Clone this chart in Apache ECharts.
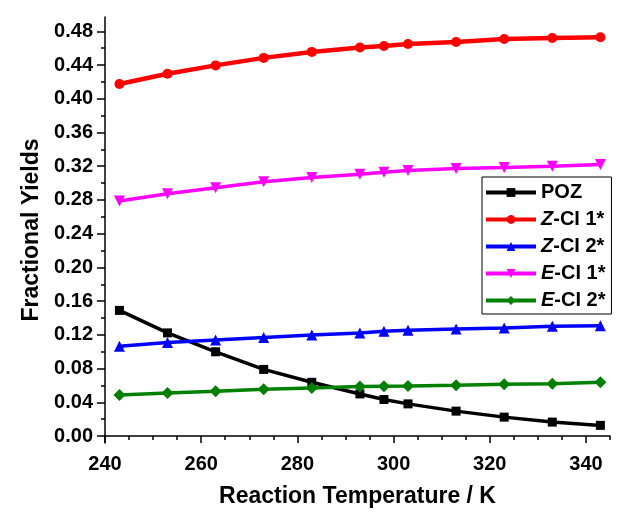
<!DOCTYPE html>
<html>
<head>
<meta charset="utf-8">
<script src="https://cdn.jsdelivr.net/npm/echarts@6/dist/echarts.min.js"></script>
<style>html,body{margin:0;padding:0;background:#fff}#c{width:633px;height:513px}</style>
</head>
<body>
<div id="c"></div>
<script>
const temps = [243, 253, 263, 273, 283, 293, 298, 303, 313, 323, 333, 343];
const poz   = [0.149, 0.1223, 0.0999, 0.079, 0.0637, 0.0499, 0.0433, 0.0381, 0.0295, 0.0224, 0.0165, 0.0126];
const zci1  = [0.4175, 0.4297, 0.4396, 0.4485, 0.4556, 0.4608, 0.4627, 0.465, 0.4674, 0.4709, 0.4721, 0.4729];
const zci2  = [0.1065, 0.1109, 0.114, 0.1168, 0.1199, 0.1223, 0.1242, 0.1254, 0.127, 0.1282, 0.1301, 0.1309];
const eci1  = [0.2787, 0.2874, 0.2945, 0.3016, 0.3066, 0.3105, 0.3129, 0.3149, 0.3173, 0.3184, 0.32, 0.322];
const eci2  = [0.0487, 0.0511, 0.0531, 0.0554, 0.057, 0.0586, 0.059, 0.0593, 0.0601, 0.0613, 0.0621, 0.0637];
const seriesNames = ['POZ', 'Z-CI1*', 'Z-CI2*', 'E-CI1*', 'E-CI2*'];
const xMajor = [240, 260, 280, 300, 320, 340];
const xMinor = [245, 250, 255, 265, 270, 275, 285, 290, 295, 305, 310, 315, 325, 330, 335, 345];
const yMajor = [0, 0.04, 0.08, 0.12, 0.16, 0.2, 0.24, 0.28, 0.32, 0.36, 0.4, 0.44, 0.48];
const yMinor = [0.02, 0.06, 0.1, 0.14, 0.18, 0.22, 0.26, 0.3, 0.34, 0.38, 0.42, 0.46];

const FONT = 'Liberation Sans, Arial, sans-serif';
const pair = (xs, ys) => xs.map((x, i) => [x, ys[i]]);
const chart = echarts.init(document.getElementById('c'), null, {renderer: 'canvas'});

const lineAxis = {show: true, lineStyle: {color: '#000', width: 1.5}};
function mk(name, data, color, symbol, size, rot, width) {
  return {
    name, type: 'line', data: pair(temps, data), xAxisIndex: 0, yAxisIndex: 0,
    symbol, symbolSize: size, symbolRotate: rot || 0,
    lineStyle: {color, width: width || 3.5},
    itemStyle: {color},
    z: 3
  };
}

chart.setOption({
  animation: false,
  backgroundColor: '#fff',
  grid: {left: 105, right: 23, top: 17, bottom: 68, containLabel: false},
  legend: {
    data: seriesNames,
    left: 482, top: 177,
    orient: 'vertical',
    backgroundColor: '#fff',
    borderColor: '#000', borderWidth: 1,
    padding: [5, 6, 3, 2],
    itemWidth: 50, itemHeight: 11, itemGap: 6,
    lineStyle: {width: 4},
    formatter: n => n.replace(/^([ZE])-CI(\d)\*/, '{i|$1}-CI $2*'),
    textStyle: {
      fontFamily: FONT, fontWeight: 'bold', fontSize: 20, color: '#000', lineHeight: 21,
      rich: {i: {fontFamily: FONT, fontWeight: 'bold', fontStyle: 'italic', fontSize: 20, color: '#000'}}
    }
  },
  xAxis: [
    {
      type: 'value', gridIndex: 0, position: 'bottom', min: 240, max: 345,
      axisLine: lineAxis,
      axisTick: {show: true, customValues: xMajor, length: 7, lineStyle: {color: '#000', width: 1.5}},
      axisLabel: {customValues: xMajor, fontFamily: FONT, fontWeight: 'bold', fontSize: 20, color: '#000', margin: 11},
      splitLine: {show: false},
      name: 'Reaction Temperature / K', nameLocation: 'middle', nameGap: 42,
      nameTextStyle: {fontFamily: FONT, fontWeight: 'bold', fontSize: 23, color: '#000'}
    },
    {
      type: 'value', gridIndex: 0, position: 'bottom', offset: 0, min: 240, max: 345,
      axisLine: {show: false},
      axisTick: {show: true, customValues: xMinor, length: 4, lineStyle: {color: '#000', width: 1.5}},
      axisLabel: {show: false},
      splitLine: {show: false}
    }
  ],
  yAxis: [
    {
      type: 'value', gridIndex: 0, position: 'left', min: -0.0083, max: 0.497,
      axisLine: lineAxis,
      axisTick: {show: true, customValues: yMajor, length: 8, lineStyle: {color: '#000', width: 1.5}},
      axisLabel: {customValues: yMajor, formatter: v => v.toFixed(2), fontFamily: FONT, fontWeight: 'bold', fontSize: 20, color: '#000', margin: 12},
      splitLine: {show: false},
      name: 'Fractional Yields', nameLocation: 'middle', nameGap: 62,
      nameTextStyle: {fontFamily: FONT, fontWeight: 'bold', fontSize: 23, color: '#000'}
    },
    {
      type: 'value', gridIndex: 0, position: 'left', offset: 0, min: -0.0083, max: 0.497,
      axisLine: {show: false},
      axisTick: {show: true, customValues: yMinor, length: 4, lineStyle: {color: '#000', width: 1.5}},
      axisLabel: {show: false},
      splitLine: {show: false}
    }
  ],
  series: [
    mk(seriesNames[0], poz, '#000000', 'rect', 9, 0, 3.5),
    mk(seriesNames[1], zci1, '#ff0000', 'circle', 10, 0, 4.5),
    mk(seriesNames[2], zci2, '#0000ff', 'triangle', 11, 0, 3.5),
    mk(seriesNames[3], eci1, '#ff00ff', 'triangle', 11, 180, 3.5),
    mk(seriesNames[4], eci2, '#008000', 'diamond', 12, 0, 3.5)
  ]
});
</script>
</body>
</html>
